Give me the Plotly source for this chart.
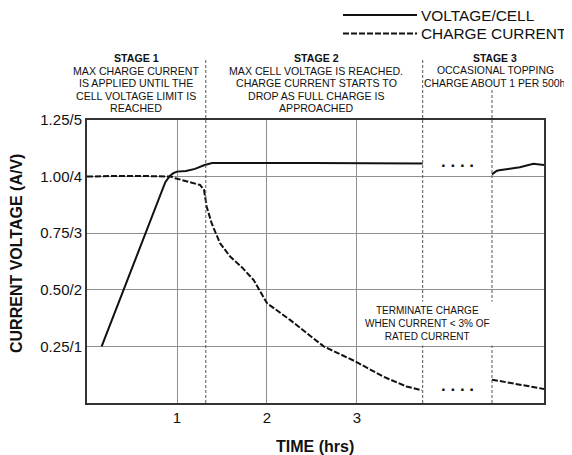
import plotly.graph_objects as go

# ---------------- data ----------------
volt_t = [0.163, 0.404, 0.652, 0.87, 0.92, 0.96, 1.0, 1.1, 1.2, 1.3, 1.39, 1.6, 2.0, 2.5, 3.0, 3.5, 3.73]
volt_v = [0.25, 0.5, 0.75, 0.975, 1.003, 1.015, 1.022, 1.025, 1.034, 1.05, 1.06, 1.061, 1.06, 1.06, 1.059, 1.058, 1.058]

volt3_t = [4.5, 4.55, 4.578, 4.81, 4.96, 5.078]
volt3_v = [1.01, 1.025, 1.028, 1.041, 1.057, 1.051]

curr_t = [0, 0.27, 0.6, 0.93, 0.98, 1.107, 1.256, 1.3, 1.33, 1.385, 1.478, 1.59, 1.72, 1.85, 2.0,
          2.256, 2.63, 2.985, 3.29, 3.55, 3.72]
curr_v = [1.0, 1.003, 1.003, 1.0, 0.993, 0.978, 0.963, 0.941, 0.867, 0.794, 0.706, 0.647, 0.6, 0.544, 0.441,
          0.367, 0.25, 0.183, 0.117, 0.073, 0.056]

curr3_t = [4.5, 4.66, 4.92, 5.078]
curr3_v = [0.103, 0.091, 0.071, 0.062]

stage_bounds = [1.32, 3.73, 4.5]
x_ticks = [1, 2, 3]
y_ticks = [0.25, 0.5, 0.75, 1.0, 1.25]
y_labels = ["0.25/1", "0.50/2", "0.75/3", "1.00/4", "1.25/5"]

stage_texts = [
    ["STAGE 1", "MAX CHARGE CURRENT", "IS APPLIED UNTIL THE", "CELL VOLTAGE LIMIT IS", "REACHED"],
    ["STAGE 2", "MAX CELL VOLTAGE IS REACHED.", "CHARGE CURRENT STARTS TO", "DROP AS FULL CHARGE IS", "APPROACHED"],
    ["STAGE 3", "OCCASIONAL TOPPING", "CHARGE ABOUT 1 PER 500h"],
]
terminate_text = "TERMINATE CHARGE<br>WHEN CURRENT &lt; 3% OF<br>RATED CURRENT"
legend_names = ["VOLTAGE/CELL", "CHARGE CURRENT"]

# ---------------- layout geometry ----------------
OFF = 8  # page body margin
W, H = 572 - OFF, 455 - OFF
L, T = 87 - OFF, 120 - OFF
R = W - (544 - OFF)
B = H - (403 - OFF)
PW, PH = W - L - R, H - T - B
FONT = "Liberation Sans, Arial, sans-serif"


def px_x(px):
    return (px - OFF - L) / PW


def px_y(py):
    return (H - B - (py - OFF)) / PH


fig = go.Figure()
line_col = "#111111"
DASH = "6px,2px"
fig.add_trace(go.Scatter(x=volt_t, y=volt_v, mode="lines", line=dict(color=line_col, width=2), showlegend=False))
fig.add_trace(go.Scatter(x=volt3_t, y=volt3_v, mode="lines", line=dict(color=line_col, width=2), showlegend=False))
fig.add_trace(go.Scatter(x=curr_t, y=curr_v, mode="lines",
                         line=dict(color=line_col, width=2, dash=DASH), showlegend=False))
fig.add_trace(go.Scatter(x=curr3_t, y=curr3_v, mode="lines",
                         line=dict(color=line_col, width=2, dash=DASH), showlegend=False))

shapes = []
tops = [px_y(60), px_y(60), px_y(88)]
dashes = ["3px,2px", "3px,2px", "3px,2px"]
for xb, top, dsh in zip(stage_bounds, tops, dashes):
    shapes.append(dict(type="line", xref="x", yref="paper", x0=xb, x1=xb, y0=0, y1=top,
                       line=dict(color="#555555", width=1, dash=dsh), layer="above"))

# legend samples
shapes.append(dict(type="line", xref="paper", yref="paper", x0=px_x(343), x1=px_x(417), y0=px_y(15), y1=px_y(15),
                   line=dict(color=line_col, width=2)))
shapes.append(dict(type="line", xref="paper", yref="paper", x0=px_x(343), x1=px_x(417), y0=px_y(33.5), y1=px_y(33.5),
                   line=dict(color=line_col, width=2, dash=DASH)))

annotations = []
for name, py in zip(legend_names, [15, 33.5]):
    annotations.append(dict(text=name, xref="paper", yref="paper", x=px_x(419), y=px_y(py), xanchor="left",
                            yanchor="middle", showarrow=False, font=dict(family=FONT, size=15.4, color="#111")))

centers = [136, 316, 495]
sizes = [10.6, 10.6, 10.4]
line_ys = [58.3, 70.7, 83.3, 96, 108.3]
for cx, fs, lines in zip(centers, sizes, stage_texts):
    for i, txt in enumerate(lines):
        annotations.append(dict(text=("<b>%s</b>" % txt) if i == 0 else txt, xref="paper", yref="paper",
                                x=px_x(cx), y=px_y(line_ys[i]), xanchor="center", yanchor="middle",
                                showarrow=False, font=dict(family=FONT, size=fs, color="#111")))

annotations.append(dict(text=terminate_text, xref="paper", yref="paper", x=px_x(427), y=px_y(323.3),
                        xanchor="center", yanchor="middle", showarrow=False, bgcolor="white", borderpad=3,
                        font=dict(family=FONT, size=10, color="#111")))

for py in [161.5, 385.5]:
    annotations.append(dict(text="<b>. . . .</b>", xref="paper", yref="paper", x=px_x(457), y=px_y(py),
                            xanchor="center", yanchor="middle", showarrow=False,
                            font=dict(family=FONT, size=17, color="#111")))

annotations.append(dict(text="<b>CURRENT VOLTAGE (A/V)</b>", xref="paper", yref="paper", x=px_x(16.7),
                        y=px_y(253.3), xanchor="center", yanchor="middle", textangle=-90, showarrow=False,
                        font=dict(family=FONT, size=16, color="#111")))
annotations.append(dict(text="<b>TIME (hrs)</b>", xref="paper", yref="paper", x=px_x(315), y=px_y(446.7),
                        xanchor="center", yanchor="middle", showarrow=False,
                        font=dict(family=FONT, size=16, color="#111")))

fig.update_layout(
    width=W, height=H, margin=dict(l=L, r=R, t=T, b=B),
    paper_bgcolor="white", plot_bgcolor="white",
    shapes=shapes, annotations=annotations, showlegend=False,
    font=dict(family=FONT, color="#111"),
)
fig.update_xaxes(range=[0, 5.078], tickvals=x_ticks, ticktext=[str(v) for v in x_ticks],
                 showgrid=True, gridcolor="#8f8f8f", gridwidth=1.3, zeroline=False,
                 showline=True, mirror=True, linecolor="#333", linewidth=2,
                 tickfont=dict(family=FONT, size=15, color="#111"), ticks="")
fig.update_yaxes(range=[0, 1.25], tickvals=y_ticks, ticktext=y_labels,
                 showgrid=True, gridcolor="#8f8f8f", gridwidth=1.3, zeroline=False,
                 showline=True, mirror=True, linecolor="#333", linewidth=2,
                 tickfont=dict(family=FONT, size=15, color="#111"), ticks="")

fig.write_html("out.html")
